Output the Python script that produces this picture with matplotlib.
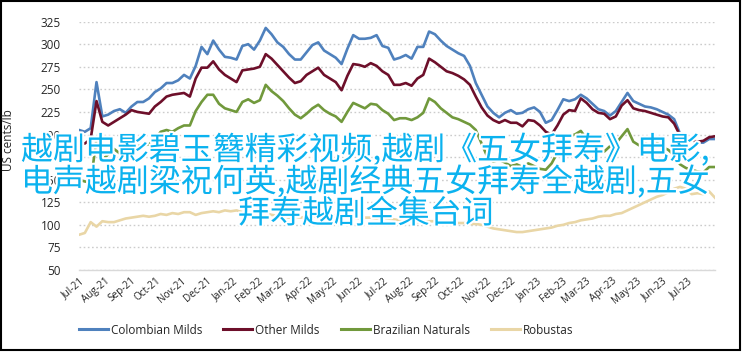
import matplotlib
matplotlib.use("Agg")
import matplotlib.pyplot as plt
import matplotlib.dates as mdates
import matplotlib.patheffects as pe
from matplotlib.patches import Rectangle
import pandas as pd

# weekly prices, US cents/lb
start_date = "2021-07-01"

colombian_milds = [
    205, 203, 207, 258, 220, 222, 226, 228, 224, 231,
    236, 236, 240, 247, 251, 257, 257, 260, 266, 262,
    276, 297, 289, 304, 294, 286, 285, 283, 298, 300,
    294, 304, 318, 311, 302, 297, 289, 283, 283, 291,
    299, 302, 293, 289, 285, 278, 295, 310, 306, 306,
    307, 310, 298, 296, 283, 285, 288, 284, 297, 297,
    314, 311, 304, 298, 294, 290, 287, 276, 257, 244,
    231, 224, 219, 224, 227, 223, 224, 228, 230, 225,
    213, 216, 227, 239, 237, 239, 244, 240, 234, 228,
    226, 221, 226, 236, 246, 237, 234, 231, 230, 228,
    225, 222, 217, 201, 196, 194, 191, 191, 195, 195,
]

other_milds = [
    191, 190, 195, 237, 214, 210, 214, 218, 222, 227,
    225, 224, 223, 231, 236, 242, 244, 245, 246, 242,
    262, 274, 274, 281, 272, 266, 262, 258, 271, 272,
    273, 275, 289, 284, 277, 270, 263, 257, 259, 266,
    270, 274, 266, 262, 258, 249, 265, 278, 277, 275,
    279, 276, 270, 266, 255, 255, 257, 254, 262, 266,
    284, 280, 275, 270, 268, 265, 261, 255, 242, 230,
    221, 216, 213, 216, 213, 213, 209, 216, 215, 210,
    203, 200, 210, 222, 227, 226, 240, 235, 228, 224,
    223, 217, 220, 232, 238, 229, 227, 226, 224, 222,
    220, 219, 212, 199, 196, 194, 192, 193, 197, 198,
]

brazilian_naturals = [
    150, 148, 147, 195, 172, 178, 184, 179, 182, 185,
    187, 188, 189, 195, 203, 205, 203, 207, 210, 210,
    226, 236, 244, 244, 234, 229, 227, 225, 236, 239,
    235, 238, 255, 248, 243, 237, 229, 222, 218, 223,
    229, 233, 227, 223, 220, 214, 225, 235, 232, 229,
    234, 233, 227, 223, 216, 218, 218, 216, 219, 224,
    240, 236, 229, 224, 219, 217, 214, 211, 205, 190,
    175, 170, 172, 169, 165, 167, 164, 168, 165, 162,
    161, 168, 180, 193, 198, 200, 204, 195, 190, 185,
    181, 187, 190, 198, 206, 192, 188, 190, 188, 191,
    186, 183, 177, 167, 163, 161, 159, 158, 164, 164,
]

robustas = [
    89, 91, 103, 98, 104, 103, 103, 105, 107, 108,
    109, 110, 109, 110, 112, 111, 113, 112, 114, 114,
    111, 113, 114, 115, 114, 116, 115, 116, 114, 112,
    111, 112, 113, 111, 110, 109, 108, 109, 108, 109,
    110, 109, 110, 111, 110, 109, 108, 108, 107, 108,
    108, 107, 108, 107, 106, 105, 105, 104, 103, 103,
    104, 104, 104, 103, 103, 102, 102, 101, 101, 100,
    98, 96, 95, 94, 93, 92, 92, 93, 94, 95,
    96, 97, 99, 100, 102, 103, 105, 106, 107, 109,
    110, 110, 112, 113, 116, 119, 122, 125, 128, 131,
    133, 136, 140, 142, 140, 134, 135, 134, 137, 130,
]

series_names = ["Colombian Milds", "Other Milds", "Brazilian Naturals", "Robustas"]
series_colors = ["#4f81bd", "#6d0f2a", "#71993c", "#e9d6a6"]

# month ticks shown on the x axis
tick_months = pd.date_range("2021-07-01", "2023-07-01", freq="MS")

overlay_lines = [
    "越剧电影碧玉簪精彩视频,越剧《五女拜寿》电影,",
    "电声越剧梁祝何英,越剧经典五女拜寿全越剧,五女",
    "拜寿越剧全集台词",
]

plt.rcParams["font.family"] = ["Open Sans", "DejaVu Sans"]

W, H = 743, 352


def plot_prices():
    """Line chart of the four ICO group indicator prices"""
    fig = plt.figure(figsize=(W / 100, H / 100), dpi=100)
    ax = fig.add_axes([79 / W, 1 - 270 / H, (715 - 79) / W, (270 - 21.6) / H])

    dates = pd.date_range(start_date, periods=len(colombian_milds), freq="7D")
    all_series = [colombian_milds, other_milds, brazilian_naturals, robustas]
    for values, name, color in zip(all_series, series_names, series_colors):
        ax.plot(dates, values, color=color, linewidth=1.9, label=name,
                solid_joinstyle="round")

    ax.set_xlim(dates[0], dates[-1])
    ax.set_ylim(50, 325)
    ax.set_yticks(range(50, 326, 25))
    ax.yaxis.grid(True, color="#cccccc", linestyle=(0, (1.2, 1.8)), linewidth=1.0)
    ax.set_axisbelow(True)
    for side in ["top", "right", "left"]:
        ax.spines[side].set_visible(False)
    ax.spines["bottom"].set_color("#d9d9d9")
    ax.spines["bottom"].set_linewidth(1.0)

    ax.set_xticks(tick_months)
    ax.xaxis.set_major_formatter(mdates.DateFormatter("%b-%y"))
    ax.tick_params(axis="both", length=0, colors="#262626")
    ax.tick_params(axis="y", labelsize=8.5, pad=13)
    ax.tick_params(axis="x", labelsize=7.2, pad=4)
    for label in ax.get_xticklabels():
        label.set_rotation(40)
        label.set_ha("right")
        label.set_rotation_mode("anchor")

    fig.text(8.5 / W, 1 - 140 / H, "US cents/lb", rotation=90, fontsize=8.5,
             color="#262626", ha="center", va="center")

    fig.legend(loc="center", bbox_to_anchor=(326 / W, 1 - 330 / H),
               ncol=4, frameon=False, fontsize=8.5, handlelength=2.45,
               handletextpad=0.25, columnspacing=1.8)
    for text in fig.legends[0].get_texts():
        text.set_color("#262626")
    for line in fig.legends[0].get_lines():
        line.set_linewidth(2.2)

    # overlay caption drawn over the plot
    for i, line in enumerate(overlay_lines):
        fig.text(366 / W, 1 - (150 + 32 * i) / H, line,
                 family=["Noto Sans CJK SC", "DejaVu Sans"], fontsize=23,
                 color="#0bb2ef", ha="center", va="center",
                 path_effects=[pe.withStroke(linewidth=3, foreground="white")])

    fig.patches.append(Rectangle((1 / W, 1 - 350 / H), 739 / W, 349 / H,
                                 transform=fig.transFigure, fill=False,
                                 edgecolor="black", linewidth=1.5))
    fig.savefig("out.png", dpi=100)


if __name__ == "__main__":
    plot_prices()
